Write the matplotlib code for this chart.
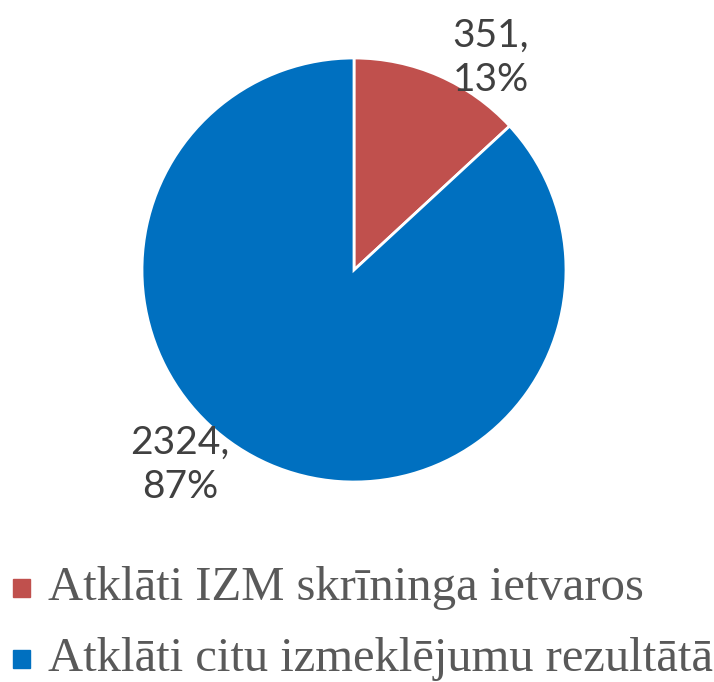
import numpy as np
from matplotlib import pyplot as plt
from matplotlib.patches import Rectangle

categories = ['Atklāti IZM skrīninga ietvaros', 'Atklāti citu izmeklējumu rezultātā']
values     = [351, 2324]
colors     = ['#C0504D', '#0070C0']

W, H = 714, 682
fig = plt.figure(figsize=(W/100, H/100), dpi=100)

# pie axes: centre (354, 270) px, radius 212 px
cx, cy, r = 354, 270, 212
ax = fig.add_axes([(cx-r)/W, (H-cy-r)/H, 2*r/W, 2*r/H])
wedges, _ = ax.pie(values, colors=colors, startangle=90, counterclock=False,
                   radius=1, wedgeprops=dict(edgecolor='white', linewidth=2))
ax.set_xlim(-1, 1)
ax.set_ylim(-1, 1)
ax.set_aspect('equal')
ax.axis('off')

# data labels (value, percent)
total = sum(values)
label_pos = [(0.645, 1.0), (-0.82, -0.92)]
for v, (x, y) in zip(values, label_pos):
    ax.text(x, y, f'{v},\n{v/total*100:.0f}%', ha='center', va='center',
            fontsize=28, color='#404040', family='Lato', linespacing=1.3,
            clip_on=False)

# legend, drawn by hand
legend_y = [588, 659]
for lab, col, y in zip(categories, colors, legend_y):
    fig.add_artist(Rectangle((13/W, (H-y-9)/H), 17/W, 18/H, color=col,
                             transform=fig.transFigure))
    fig.text(48/W, (H-y)/H, lab, fontsize=35, family='Liberation Serif',
             color='#595959', va='center', ha='left')

fig.savefig('out.png', dpi=100)
